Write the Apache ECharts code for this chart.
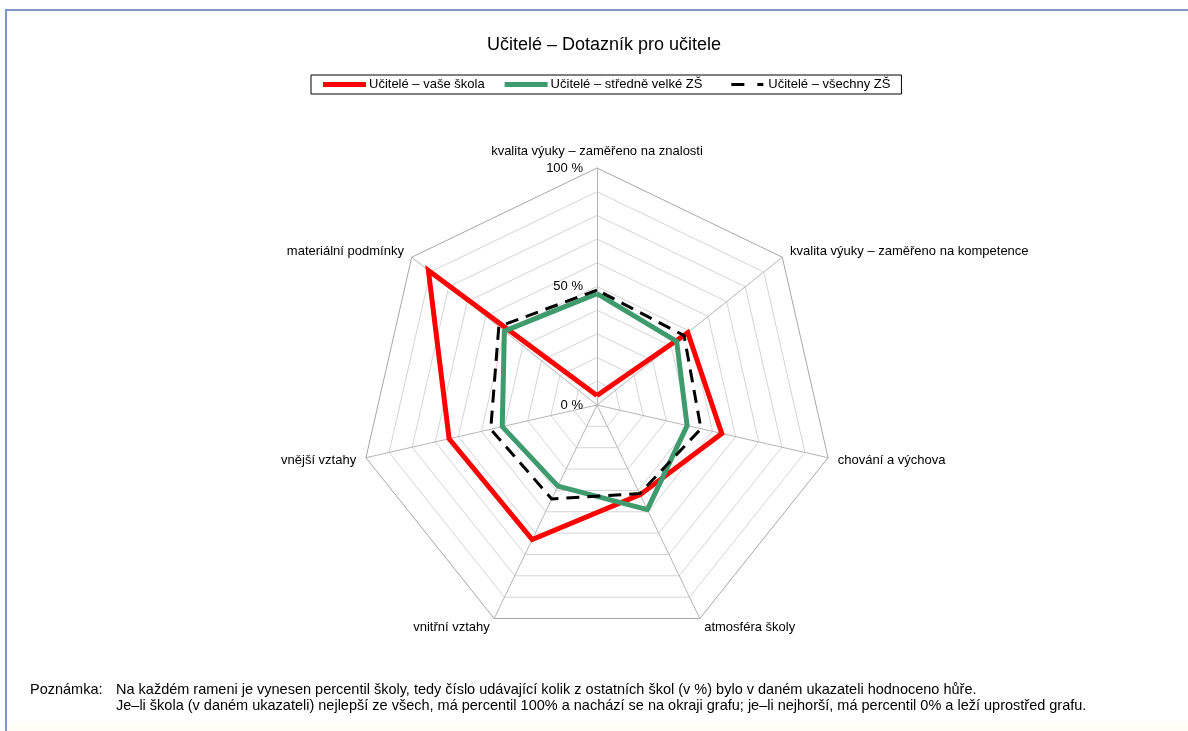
<!DOCTYPE html>
<html>
  <head>
    <meta charset="UTF-8">
    <title>Učitelé – Dotazník pro učitele</title>
    <script src="https://cdn.jsdelivr.net/npm/echarts@6/dist/echarts.min.js"></script>
    <style>
      html, body { margin: 0; padding: 0; background: #fff; }
      #frame { position: absolute; left: 5px; top: 9px; width: 1183px; height: 722px;
               border-left: 2px solid #8196c6; border-top: 2px solid #8196c6; box-sizing: border-box; }
      #strip { position: absolute; left: 7px; top: 723px; width: 1181px; height: 8px; background: #fffef4; }
      #myChart { position: absolute; left: 0; top: 0; width: 1188px; height: 731px; }
    </style>
  </head>
  <body>
    <div id="frame"></div>
    <div id="strip"></div>
    <div id="myChart"></div>
    <script type="text/javascript">
      // osy (v pořadí proti směru hodinových ručiček, začíná nahoře)
      var axisNames = [
        'kvalita výuky – zaměřeno na znalosti',
        'materiální podmínky',
        'vnější vztahy',
        'vnitřní vztahy',
        'atmosféra školy',
        'chování a výchova',
        'kvalita výuky – zaměřeno na kompetence'
      ];
      var seriesNames = ['Učitelé – vaše škola', 'Učitelé – středně velké ZŠ', 'Učitelé – všechny ZŠ'];
      var vaseSkola   = [4, 91, 64, 63, 42, 54, 49];
      var stredneZS   = [47, 50, 41, 38, 49, 39, 43];
      var vsechnyZS   = [48.5, 53, 46, 44, 41.5, 45, 47];
      var scaleLabels = [0, 50, 100];
      var noteLabel = 'Poznámka:';
      var noteLines = [
        'Na každém rameni je vynesen percentil školy, tedy číslo udávající kolik z ostatních škol (v %) bylo v daném ukazateli hodnoceno hůře.',
        'Je–li škola (v daném ukazateli) nejlepší ze všech, má percentil 100% a nachází se na okraji grafu; je–li nejhorší, má percentil 0% a leží uprostřed grafu.'
      ];

      var FONT = 'Liberation Sans, Arial, sans-serif';

      var myChart = echarts.init(document.getElementById('myChart'));

      // jen první osa nese popisky stupnice
      var indicators = axisNames.map(function (n, i) {
        var ind = { name: n, min: 0, max: 100 };
        if (i > 0) ind.axisLabel = { show: false };
        return ind;
      });

      // mřížka: střed + 9 světlých kružnic + tmavší okraj
      var ringColors = [];
      for (var k = 0; k < 10; k++) ringColors.push('#d4d4d4');
      ringColors.push('#a6a6a6');

      var option = {
        animation: false,
        backgroundColor: 'transparent',
        textStyle: { fontFamily: FONT, color: '#000' },
        title: [
          {
            text: 'Učitelé – Dotazník pro učitele',
            left: 604, top: 36, textAlign: 'center', padding: 0,
            textStyle: { fontFamily: FONT, fontSize: 18, fontWeight: 'normal', color: '#000' }
          },
          {
            text: noteLabel,
            left: 30, top: 682, padding: 0,
            textStyle: { fontFamily: FONT, fontSize: 14.5, fontWeight: 'normal', color: '#000', lineHeight: 16 }
          },
          {
            text: noteLines.join('\n'),
            left: 116, top: 682, padding: 0,
            textStyle: { fontFamily: FONT, fontSize: 14.5, fontWeight: 'normal', color: '#000', lineHeight: 16 }
          }
        ],
        legend: {
          left: 311, top: 75,
          padding: [3, 11, 3, 12],
          borderColor: '#000', borderWidth: 1,
          itemGap: 20, itemWidth: 43, itemHeight: 5,
          textStyle: { fontFamily: FONT, fontSize: 13, color: '#000', padding: [0, 0, 0, -2] },
          data: [
            { name: seriesNames[0], icon: 'rect', itemStyle: { color: '#ff0000' } },
            { name: seriesNames[1], icon: 'rect', itemStyle: { color: '#3f9a6d' } },
            { name: seriesNames[2],
              icon: 'path://M0,0M43,5M9,1H22V4H9Z M35,1H41V4H35Z',
              itemStyle: { color: '#000' } }
          ]
        },
        radar: {
          center: [597, 405],
          radius: 237,
          splitNumber: 10,
          shape: 'polygon',
          nameGap: 10,
          axisName: { color: '#000', fontFamily: FONT, fontSize: 13 },
          axisLine: { lineStyle: { color: '#b4b4b4', width: 1 } },
          splitLine: { lineStyle: { color: ringColors, width: 1 } },
          splitArea: { show: false },
          axisLabel: {
            show: true,
            color: '#000', fontFamily: FONT, fontSize: 13,
            margin: 14,
            formatter: function (v) {
              return scaleLabels.indexOf(v) >= 0 ? v + ' %' : '';
            }
          },
          indicator: indicators
        },
        series: [{
          type: 'radar',
          symbol: 'none',
          data: [
            { name: seriesNames[0], value: vaseSkola,
              lineStyle: { color: '#ff0000', width: 5, join: 'miter' }, itemStyle: { color: '#ff0000' } },
            { name: seriesNames[1], value: stredneZS,
              lineStyle: { color: '#3f9a6d', width: 5 }, itemStyle: { color: '#3f9a6d' } },
            { name: seriesNames[2], value: vsechnyZS,
              lineStyle: { color: '#000', width: 3, type: [13, 8] }, itemStyle: { color: '#000' } }
          ]
        }]
      };

      myChart.setOption(option);
    </script>
  </body>
</html>
